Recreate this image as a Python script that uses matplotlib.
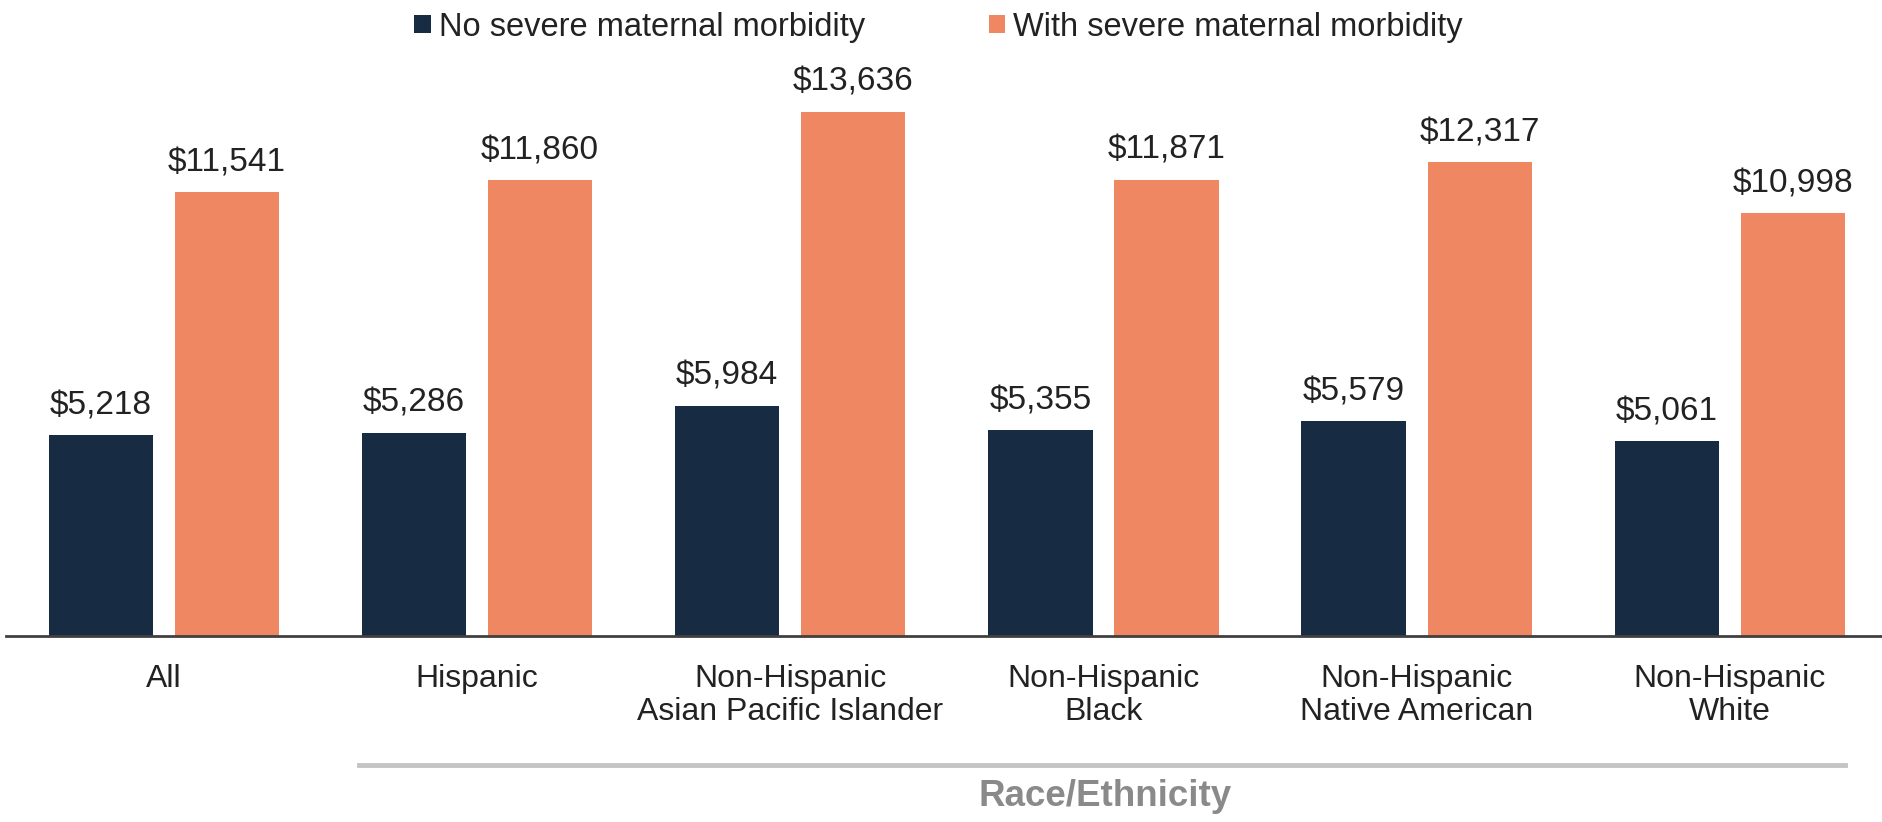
import matplotlib.pyplot as plt
import numpy as np
from matplotlib.lines import Line2D

plt.rcParams['font.family'] = ['Liberation Sans', 'DejaVu Sans']

categories = ['All', 'Hispanic', 'Non-Hispanic\nAsian Pacific Islander', 'Non-Hispanic\nBlack',
              'Non-Hispanic\nNative American', 'Non-Hispanic\nWhite']
no_smm = [5218, 5286, 5984, 5355, 5579, 5061]
with_smm = [11541, 11860, 13636, 11871, 12317, 10998]
series_names = ['No severe maternal morbidity', 'With severe maternal morbidity']

navy = '#172b42'
orange = '#f08763'
text_col = '#222222'

fig = plt.figure(figsize=(18.83, 8.22), dpi=100)
ax = fig.add_axes([0.0032, 0.2266, 0.9968, 0.748])

x = np.arange(len(categories))
w = 0.333
off = 0.2013

b1 = ax.bar(x - off, no_smm, w, color=navy, label=series_names[0])
b2 = ax.bar(x + off, with_smm, w, color=orange, label=series_names[1])

for bars in (b1, b2):
    for b in bars:
        ax.annotate('${:,}'.format(int(b.get_height())),
                    (b.get_x() + b.get_width() / 2, b.get_height()),
                    xytext=(0, 10), textcoords='offset points',
                    ha='center', va='bottom', fontsize=24, color=text_col)

ax.set_xlim(-0.504, 5.489)
ax.set_ylim(0, 16000)
ax.set_xticks(x)
ax.set_xticklabels(categories, fontsize=23, color=text_col, linespacing=1.15)
ax.tick_params(axis='x', length=0, pad=20)
ax.set_yticks([])
for s in ['top', 'right', 'left']:
    ax.spines[s].set_visible(False)
ax.spines['bottom'].set_color('#404040')
ax.spines['bottom'].set_linewidth(2)

leg = fig.legend(handles=[b1, b2], loc='center', bbox_to_anchor=(0.4985, 0.967), ncol=2,
                 frameon=False, fontsize=23.5, handlelength=0.5, handleheight=0.5,
                 handletextpad=0.25, columnspacing=3.8)
for t in leg.get_texts():
    t.set_color(text_col)

fig.add_artist(Line2D([0.1907, 0.980], [0.0693, 0.0693], transform=fig.transFigure,
                      color='#c4c4c4', linewidth=3.5))
fig.text(0.587, 0.0316, 'Race/Ethnicity', ha='center', va='center', fontsize=26.5,
         fontweight='bold', color='#8a8a8a')

fig.savefig('out.png', dpi=100)
